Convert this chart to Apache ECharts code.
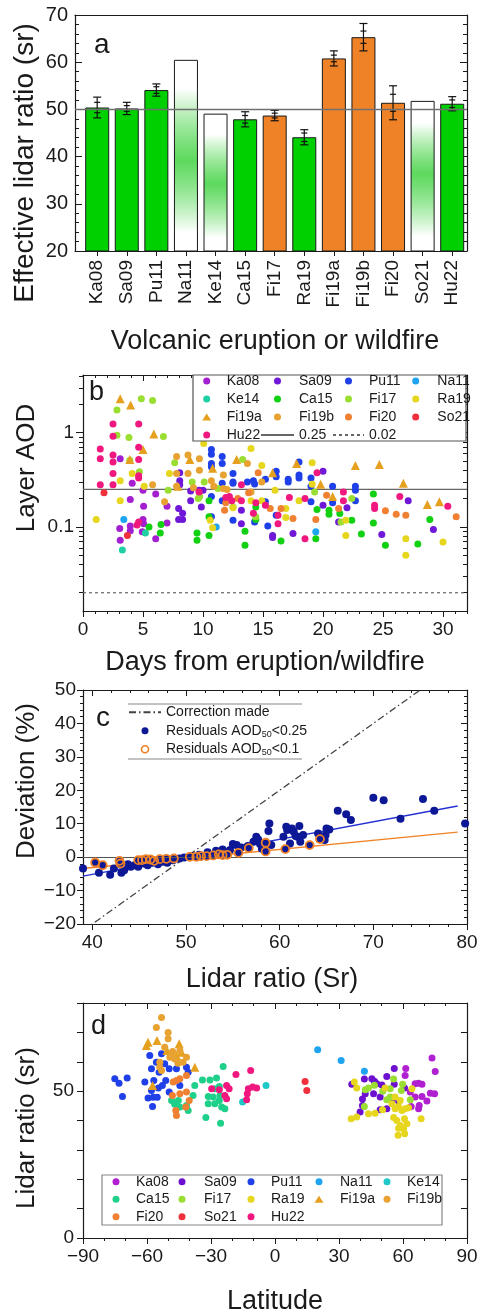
<!DOCTYPE html>
<html>
<head>
<meta charset="utf-8">
<script src="https://cdn.jsdelivr.net/npm/echarts@6/dist/echarts.min.js"></script>
<style>
  html, body { margin: 0; padding: 0; background: #fff; }
  #chart { width: 478px; height: 1314px; }
</style>
</head>
<body>
<div id="chart"></div>
<script>
// ---- panel a : effective lidar ratio per event ----
const catsA = ['Ka08','Sa09','Pu11','Na11','Ke14','Ca15','Fi17','Ra19','Fi19a','Fi19b','Fi20','So21','Hu22'];
const lrA = [50.4, 50.2, 54.1, 60.5, 49.1, 47.9, 48.7, 44.1, 60.8, 65.3, 51.4, 51.8, 51.2];
const errOutA = [2.2, 1.3, 1.3, 0, 0, 1.6, 1.1, 1.6, 1.6, 2.9, 3.6, 0, 1.5];
const errInA = [1.1, 0.6, 0.7, 0, 0, 0.8, 0.5, 0.9, 0.7, 1.3, 1.8, 0, 0.8];
const kindA = ['v','v','v','n','n','v','f','v','f','f','f','n','v']; // v volcanic, f fire, n no estimate
const refLineA = 50;

// ---- panel b : layer AOD vs days ----
const bKa08 = [[3.1,0.53],[3.06,0.096],[3.1,0.072],[3.94,0.195],[3.94,0.102],[3.94,0.091],[4.1,0.29],[5.0,0.245],[5.0,0.12],[4.94,0.089],[5.05,0.166],[5.05,0.108],[6.06,0.075],[6.06,0.223],[7.0,0.166],[7.0,0.110]];
const bSa09 = [[7.97,0.157],[7.97,0.12],[8.06,0.375],[8.06,0.31],[8.06,0.28],[8.3,0.12],[8.3,0.14],[8.97,0.19],[8.97,0.24],[9.67,0.245],[9.86,0.163],[10.0,0.245],[13.2,0.15],[13.2,0.108],[15.8,0.081],[15.8,0.077],[17.5,0.085],[20.0,0.39],[20.0,0.17],[22.0,0.16],[21.3,0.113],[24.9,0.083],[27.1,0.19],[29.2,0.094]];
const bPu11 = [[10.7,0.665],[10.7,0.59],[10.7,0.47],[10.7,0.435],[10.7,0.21],[10.7,0.128],[11.6,0.56],[11.6,0.47],[11.6,0.29],[11.6,0.19],[12.5,0.37],[12.5,0.30],[12.5,0.29],[12.5,0.118],[14.2,0.31],[14.3,0.285],[14.3,0.113],[15.2,0.32],[15.2,0.185],[15.4,0.102],[16.1,0.39],[16.1,0.34],[16.1,0.133],[17.1,0.32],[17.1,0.30],[18.0,0.49],[18.0,0.355],[18.0,0.33],[19.0,0.33],[19.0,0.27],[19.0,0.185],[20.8,0.27],[20.8,0.18],[22.7,0.27],[22.7,0.245],[22.7,0.19],[13.7,0.30]];
const bNa11 = [[3.4,0.12],[11.1,0.10],[19.4,0.089]];
const bKe14 = [[3.28,0.057],[5.2,0.086]];
const bCa15 = [[5.5,0.10],[6.5,0.106],[6.44,0.086],[9.5,0.086],[9.5,0.072],[10.5,0.19],[10.5,0.128],[10.5,0.081],[13.5,0.09],[13.5,0.064],[14.4,0.163],[14.4,0.12],[16.5,0.071],[19.4,0.075],[19.5,0.153],[20.5,0.15],[20.5,0.136],[21.4,0.139],[22.4,0.118],[23.2,0.084],[24.2,0.223],[24.2,0.110],[25.2,0.064],[27.9,0.066],[28.9,0.12]];
const bFi17 = [[2.83,1.74],[4.86,2.3],[5.8,2.2],[2.83,0.94],[3.83,0.89],[6.7,0.91],[4.7,0.385],[3.9,0.51],[7.64,0.48],[9.72,0.21],[9.6,0.20],[11.25,0.256],[12.5,0.163],[14.4,0.128],[13.3,0.52],[19.3,0.235],[21.5,0.113],[7.1,0.245],[9.1,0.30],[10.1,0.30],[22.4,0.20]];
const bRa19 = [[1.1,0.12],[3.1,0.31],[3.1,0.19],[4.1,0.37],[5.1,0.27],[7.2,0.37],[10.06,0.77],[10.6,0.118],[10.8,0.098],[12.5,0.16],[14.0,0.68],[14.0,0.19],[14.9,0.45],[14.9,0.19],[16.0,0.245],[16.9,0.157],[16.9,0.126],[18.0,0.19],[19.1,0.48],[19.1,0.284],[21.9,0.081],[21.9,0.118],[26.9,0.075],[26.9,0.05],[30.0,0.069]];
const bFi19a = [[3.1,2.3],[3.97,1.97],[5.9,0.97],[5.0,0.665],[3.9,0.52],[8.9,0.52],[10.8,0.42],[12.8,0.52],[15.8,0.375],[17.8,0.47],[19.8,0.284],[20.8,0.21],[22.7,0.45],[24.7,0.46],[26.7,0.29],[28.7,0.173],[29.7,0.185],[7.9,0.27]];
const bFi19b = [[7.8,0.56],[8.75,0.58],[9.7,0.53],[9.7,0.40],[7.8,0.37],[8.75,0.37],[5.8,0.28],[6.8,0.185],[7.8,0.27],[10.7,0.31],[11.7,0.355],[11.7,0.256],[13.7,0.47],[14.0,0.235],[14.9,0.30],[9.2,0.26],[10.9,0.27],[12.0,0.25]];
const bFi20 = [[14.6,0.375],[12.9,0.20],[11.9,0.18],[11.8,0.15],[15.6,0.157],[16.5,0.157],[17.5,0.123],[19.4,0.12],[20.3,0.217],[21.3,0.157],[25.2,0.148],[26.1,0.136],[26.9,0.133],[31.1,0.128],[13.8,0.23]];
const bSo21 = [[1.75,0.23],[3.7,0.081]];
const bHu22 = [[2.5,1.24],[2.5,0.92],[1.44,0.67],[1.44,0.53],[2.5,0.58],[2.5,0.49],[2.5,0.37],[2.5,0.28],[4.64,1.24],[4.64,0.70],[4.64,0.52],[4.64,0.35],[4.64,0.33],[1.44,0.28],[4.64,0.113],[4.5,0.105],[13.2,0.28],[13.2,0.19],[14.2,0.14],[15.2,0.17],[16.25,0.133],[16.25,0.108],[17.2,0.205],[18.5,0.20],[18.5,0.075],[19.5,0.375],[21.7,0.235],[21.7,0.19],[24.3,0.17],[24.3,0.157],[26.4,0.21],[30.4,0.166],[11.9,0.205],[12.2,0.21],[9.67,0.235],[14.4,0.18],[12.4,0.19]];
const bRefSolid = 0.25;
const bRefDash = 0.02;
const bXMajor = [0, 5, 10, 15, 20, 25, 30];
const bXMinor = [1,2,3,4,6,7,8,9,11,12,13,14,16,17,18,19,21,22,23,24,26,27,28,29,31,32];
const bYMajor = [0.1, 1];
const bYMinor = [0.02,0.03,0.04,0.05,0.06,0.07,0.08,0.09,0.2,0.3,0.4,0.5,0.6,0.7,0.8,0.9,2,3,4];

// ---- panel c : deviation vs lidar ratio ----
const cRes25 = [[39.0,-3.4],[40.7,-4.7],[41.9,-5.3],[42.3,-3.4],[43.0,-2.2],[43.1,-4.7],[43.4,-3.9],[43.8,-2.1],[44.1,-2.9],[44.5,-2.4],[44.9,-2.9],[45.5,-1.9],[45.9,-2.4],[46.4,-1.7],[47.0,-2.1],[47.5,-1.4],[48.0,-1.7],[48.6,-0.9],[49.3,-0.4],[49.8,-0.1],[50.7,0.3],[51.4,0.7],[52.3,1.5],[53.2,1.9],[53.9,2.3],[54.7,2.1],[55.0,3.9],[55.4,3.6],[55.9,2.9],[56.6,3.3],[57.2,4.6],[57.5,6.1],[57.7,5.3],[57.9,3.9],[58.1,2.5],[58.9,10.1],[58.8,7.8],[59.1,3.6],[60.4,6.1],[60.7,9.1],[60.8,8.1],[61.1,4.1],[61.3,8.6],[61.5,7.6],[61.7,6.3],[61.9,6.1],[62.1,9.3],[62.2,4.6],[62.5,6.6],[64.1,7.1],[64.5,5.6],[64.8,5.1],[64.9,6.6],[65.0,8.6],[65.3,8.3],[66.2,13.9],[67.1,12.8],[67.6,11.1],[70.0,17.8],[71.1,17.0],[72.9,11.5],[75.3,17.4],[76.5,13.9],[79.8,10.1],
  [40.3,-1.6],[41.1,-2.4],[42.9,-1.1],[43.0,-1.9],[44.9,-0.9],[45.3,-0.9],[45.7,-0.6],[46.2,-0.7],[46.6,-1.1],[47.2,-0.6],[47.9,-0.5],[48.7,-0.4],[50.4,0.1],[51.1,0.1],[51.6,0.3],[52.2,0.3],[52.9,0.5],[53.5,0.8],[53.9,0.6],[54.4,0.7],[55.6,1.3],[56.7,2.7],[58.5,1.7],[58.5,4.3],[60.6,2.4],[63.2,3.6],[64.3,5.4]];
const cRes10 = [[40.3,-1.6],[41.1,-2.4],[42.9,-1.1],[43.0,-1.9],[44.9,-0.9],[45.3,-0.9],[45.7,-0.6],[46.2,-0.7],[46.6,-1.1],[47.2,-0.6],[47.9,-0.5],[48.7,-0.4],[50.4,0.1],[51.1,0.1],[51.6,0.3],[52.2,0.3],[52.9,0.5],[53.5,0.8],[53.9,0.6],[54.4,0.7],[55.6,1.3],[56.7,2.7],[58.5,1.7],[58.5,4.3],[60.6,2.4],[63.2,3.6],[64.3,5.4]];
const cCorrection = [[39, -22], [75, 50]];
const cFit25 = [[39, -5.7], [79, 15.3]];
const cFit10 = [[39, -3.4], [79, 7.5]];
const cXMajor = [40, 50, 60, 70, 80];
const cXMinor = [42,44,46,48,52,54,56,58,62,64,66,68,72,74,76,78];

// ---- panel d : lidar ratio vs latitude ----
const dKa08 = [[73.6,61.3],[75.1,56.7],[61.3,57.7],[65.7,52.5],[67.3,52.7],[68.9,52.3],[63.4,49.7],[65.7,48.0],[68.9,48.2],[72.8,49.3],[74.8,49.1],[71.2,46.6],[67.6,45.1],[67.3,44.0],[63.8,44.8],[61.0,55.3]];
const dSa09 = [[41.9,54.1],[45.4,54.2],[46.6,53.4],[47.7,52.5],[50.1,52.1],[52.4,55.0],[55.9,52.3],[60.7,51.1],[36.0,52.3],[42.3,49.1],[41.0,47.3],[46.2,49.1],[49.3,48.0],[54.8,46.8],[57.9,46.6],[52.4,44.0],[49.3,43.7],[39.9,42.9],[41.0,45.1],[46.9,52.9],[55.9,57.7]];
const dPu11 = [[-75.1,54.2],[-73.1,52.7],[-69.3,54.5],[-71.5,48.2],[-58.7,62.1],[-53.2,62.7],[-55.6,59.8],[-57.9,57.6],[-54.3,56.4],[-61.0,53.1],[-56.8,53.6],[-51.2,53.6],[-54.7,51.1],[-52.8,51.9],[-57.9,50.2],[-59.5,47.7],[-57.1,47.9],[-55.2,47.9],[-57.4,44.8],[-49.6,57.6],[-46.2,57.6],[-41.5,58.1],[-40.7,56.4],[-49.6,49.7],[-44.6,51.9],[-51.7,59.3]];
const dNa11 = [[20.0,64.1],[31.0,60.4],[41.9,56.8]];
const dKe14 = [[-4.2,51.9],[-15.2,46.3]];
const dCa15 = [[-48.5,46.8],[-45.3,46.8],[-47.0,45.5],[-44.6,44.6],[-41.5,45.1],[-38.4,48.5],[-37.6,51.9],[-40.7,43.4],[-34.0,53.8],[-30.5,53.8],[-27.4,54.5],[-24.3,58.4],[-28.2,50.8],[-26.1,51.6],[-31.3,48.2],[-29.0,48.0],[-25.8,48.5],[-31.3,45.7],[-28.2,45.7],[-26.1,46.8],[-25.0,44.6],[-23.5,44.0],[-32.4,41.0],[-25.5,39.1]];
const dFi17 = [[42.3,50.5],[43.8,51.1],[46.6,52.0],[50.5,50.0],[54.0,50.8],[55.6,54.1],[59.8,52.3],[59.2,50.2],[52.4,47.1],[54.0,48.0],[63.4,47.1],[41.9,44.8]];
const dRa19 = [[37.2,53.1],[38.3,51.1],[35.7,40.6],[38.3,41.2],[43.8,42.3],[46.9,42.5],[50.4,43.7],[54.8,45.7],[56.3,44.0],[57.9,44.8],[59.5,43.4],[61.0,44.0],[62.6,44.3],[55.6,41.0],[57.1,40.0],[60.7,40.6],[58.7,38.3],[61.8,38.9],[60.3,37.2],[57.9,37.4],[68.5,40.6],[51.6,51.1],[64.2,50.8],[56.3,48.0],[58.7,46.8],[57.7,35.0],[60.8,35.5]];
const dFi19a = [[-59.5,66.6],[-60.3,65.5],[-55.3,67.2],[-44.9,66.1],[-50.6,63.8],[-48.5,62.7],[-46.2,62.1],[-43.8,63.2],[-37.6,58.1],[-57.4,51.9]];
const dFi19b = [[-53.2,75.1],[-55.6,71.7],[-50.1,70.0],[-50.1,67.8],[-51.7,64.9],[-49.3,61.5],[-47.0,60.9],[-44.6,63.8],[-43.1,59.8],[-41.5,61.5],[-54.0,59.8],[-53.2,57.0],[-54.0,58.1],[-45.5,59.5],[-48.0,63.5]];
const dFi20 = [[-47.7,53.1],[-44.6,54.2],[-41.5,55.3],[-46.2,53.6],[-48.1,48.5],[-44.6,49.1],[-41.5,49.7],[-40.2,46.8],[-46.5,43.4],[-46.2,41.7],[-41.8,44.6]];
const dSo21 = [[14.1,53.3],[14.9,50.2]];
const dHu22 = [[-29.7,50.8],[-26.1,50.5],[-22.7,51.9],[-21.5,50.8],[-18.3,55.7],[-23.5,48.5],[-22.7,47.4],[-11.4,57.0],[-12.5,50.8],[-10.5,51.4],[-8.6,51.1],[-13.0,49.1],[-13.3,47.1]];

// ---- styles ----
const FONT = '"Liberation Sans", Arial, sans-serif';
const INK = '#1a1a1a';
const GREEN = '#00cf00';
const ORANGE = '#ef8226';
const peakA = { 3: 39.2, 4: 34.3, 11: 36.4 };  // where the green haze peaks in the empty bars

const colB = { Ka08:'#a31fd0', Sa09:'#7018d8', Pu11:'#1f3fe8', Na11:'#1ea4f0', Ke14:'#1fd0a4', Ca15:'#12d012',
  Fi17:'#9ade32', Ra19:'#e6d61e', Fi19a:'#e6a020', Fi19b:'#e8a232', Fi20:'#f08032', So21:'#f0303c', Hu22:'#f0187e' };
const colD = Object.assign({}, colB, { Ka08:'#b020d0', Sa09:'#6e10d0', Ke14:'#20c8c8', Ca15:'#1ed08a' });

const chart = echarts.init(document.getElementById('chart'), null, { renderer: 'canvas' });

const lineSt = { color: INK, width: 1.2 };
const tickSt = { color: INK, width: 1 };
const axLine = { show: true, onZero: false, lineStyle: lineSt };
const lab = (o) => Object.assign({ color: INK, fontFamily: FONT, fontSize: 19 }, o);
const minus = (v) => String(v).replace('-', '\u2212');

// tick-only axis used for mirrored / minor ticks
function tickAxis(o, values, len, inside) {
  return Object.assign({
    type: 'value', axisLine: { show: false, onZero: false }, axisLabel: { show: false }, splitLine: { show: false },
    axisTick: { show: true, customValues: values, length: len, inside: inside, lineStyle: tickSt }
  }, o);
}
function frameAxis(o, tick) {
  return Object.assign({
    type: 'value', axisLine: axLine, axisLabel: { show: false },
    splitLine: { show: false }, axisTick: tick || { show: false }
  }, o);
}

const posA = catsA.map((c, i) => i + 1);

const xAxis = [
  // a
  { type: 'value', gridIndex: 0, min: 0.25, max: 13.5, position: 'bottom', axisLine: axLine,
    axisTick: { show: true, customValues: posA, length: 5, lineStyle: tickSt },
    axisLabel: lab({ customValues: posA, rotate: 90, margin: 9, formatter: (v) => catsA[Math.round(v) - 1] }),
    splitLine: { show: false } },
  frameAxis({ gridIndex: 0, min: 0.25, max: 13.5, position: 'top' }),
  // b
  { type: 'value', gridIndex: 1, min: 0, max: 32, position: 'bottom', axisLine: axLine,
    axisTick: { show: true, customValues: bXMajor, length: 6, lineStyle: tickSt },
    axisLabel: lab({ customValues: bXMajor, margin: 9 }), splitLine: { show: false } },
  tickAxis({ gridIndex: 1, min: 0, max: 32, position: 'bottom' }, bXMinor, 3, false),
  frameAxis({ gridIndex: 1, min: 0, max: 32, position: 'top' },
    { show: true, customValues: bXMajor, length: 6, inside: true, lineStyle: tickSt }),
  tickAxis({ gridIndex: 1, min: 0, max: 32, position: 'top' }, bXMinor, 3, true),
  // c
  { type: 'value', gridIndex: 2, min: 39, max: 80, position: 'bottom', axisLine: axLine,
    axisTick: { show: true, customValues: cXMajor, length: 6, lineStyle: tickSt },
    axisLabel: lab({ customValues: cXMajor, margin: 9 }), splitLine: { show: false } },
  tickAxis({ gridIndex: 2, min: 39, max: 80, position: 'bottom' }, cXMinor, 3, false),
  frameAxis({ gridIndex: 2, min: 39, max: 80, position: 'top' },
    { show: true, customValues: cXMajor, length: 6, inside: true, lineStyle: tickSt }),
  tickAxis({ gridIndex: 2, min: 39, max: 80, position: 'top' }, cXMinor, 3, true),
  // d
  { type: 'value', gridIndex: 3, min: -90, max: 90, interval: 30, position: 'bottom', axisLine: axLine,
    axisTick: { show: true, length: 6, lineStyle: tickSt },
    minorTick: { show: true, splitNumber: 3, length: 3, lineStyle: tickSt },
    axisLabel: lab({ margin: 9, formatter: minus }), splitLine: { show: false }, minorSplitLine: { show: false } },
  frameAxis({ gridIndex: 3, min: -90, max: 90, interval: 30, position: 'top',
    minorTick: { show: true, splitNumber: 3, length: 3, lineStyle: tickSt } },
    { show: true, length: 6, inside: true, lineStyle: tickSt })
];

const yAxis = [
  // a
  { type: 'value', gridIndex: 0, min: 20, max: 70, interval: 10, position: 'left', axisLine: axLine,
    axisTick: { show: true, inside: true, length: 7, lineStyle: tickSt },
    minorTick: { show: true, splitNumber: 5, length: 4, lineStyle: tickSt },
    axisLabel: lab({ fontSize: 20, margin: 7 }), splitLine: { show: false } },
  frameAxis({ gridIndex: 0, min: 20, max: 70, interval: 10, position: 'right',
    minorTick: { show: true, splitNumber: 5, length: 4, lineStyle: tickSt } },
    { show: true, inside: true, length: 7, lineStyle: tickSt }),
  // b (log)
  { type: 'log', gridIndex: 1, min: 0.0128, max: 4.1, position: 'left', axisLine: axLine,
    axisTick: { show: true, customValues: bYMajor, length: 7, lineStyle: tickSt },
    axisLabel: lab({ customValues: bYMajor, margin: 9, formatter: (v) => String(v) }), splitLine: { show: false } },
  tickAxis({ type: 'log', gridIndex: 1, min: 0.0128, max: 4.1, position: 'left' }, bYMinor, 4, false),
  frameAxis({ type: 'log', gridIndex: 1, min: 0.0128, max: 4.1, position: 'right' },
    { show: true, customValues: bYMajor, length: 7, inside: true, lineStyle: tickSt }),
  tickAxis({ type: 'log', gridIndex: 1, min: 0.0128, max: 4.1, position: 'right' }, bYMinor, 4, true),
  // c
  { type: 'value', gridIndex: 2, min: -20, max: 50, interval: 10, position: 'left', axisLine: axLine,
    axisTick: { show: true, length: 6, lineStyle: tickSt },
    minorTick: { show: true, splitNumber: 5, length: 3, lineStyle: tickSt },
    axisLabel: lab({ margin: 7, formatter: minus }), splitLine: { show: false } },
  frameAxis({ gridIndex: 2, min: -20, max: 50, interval: 10, position: 'right',
    minorTick: { show: true, splitNumber: 5, length: 3, lineStyle: tickSt } },
    { show: true, inside: true, length: 6, lineStyle: tickSt }),
  // d
  { type: 'value', gridIndex: 3, min: 0, max: 80, interval: 10, position: 'left', axisLine: axLine,
    axisTick: { show: true, length: 6, lineStyle: tickSt },
    axisLabel: lab({ margin: 9, formatter: (v) => (v === 0 || v === 50) ? String(v) : '' }),
    splitLine: { show: false } },
  frameAxis({ gridIndex: 3, min: 0, max: 80, interval: 10, position: 'right' },
    { show: true, inside: true, length: 6, lineStyle: tickSt })
];

// bar colours
function barColor(i) {
  if (kindA[i] === 'f') return ORANGE;
  if (kindA[i] === 'v') return GREEN;
  const v = lrA[i], p = peakA[i];
  return { type: 'linear', x: 0, y: 0, x2: 0, y2: 1, colorStops: [
    { offset: 0, color: '#ffffff' },
    { offset: 0.15, color: '#ffffff' },
    { offset: (v - p) / (v - 20), color: 'rgba(40,205,40,0.75)' },
    { offset: 0.9, color: '#ffffff' },
    { offset: 1, color: '#ffffff' }
  ] };
}

const series = [];

series.push({
  type: 'bar', xAxisIndex: 0, yAxisIndex: 0, barWidth: 24, clip: true,
  data: lrA.map((v, i) => ({ value: [i + 1, v], itemStyle: { color: barColor(i) } })),
  itemStyle: { borderColor: INK, borderWidth: 1 },
  markLine: { silent: true, symbol: 'none', label: { show: false },
    lineStyle: { color: '#707070', width: 1.4, type: 'solid' }, data: [{ yAxis: refLineA }] },
  z: 2
});

series.push({
  type: 'custom', xAxisIndex: 0, yAxisIndex: 0, z: 4,
  data: lrA.map((v, i) => [i + 1, v, errOutA[i], errInA[i]]).filter((d) => d[2] > 0),
  encode: { x: 0, y: 1 },
  renderItem: function (params, api) {
    const x = api.value(0), v = api.value(1), eo = api.value(2), ei = api.value(3);
    const t = api.coord([x, v + eo]), b = api.coord([x, v - eo]);
    const ti = api.coord([x, v + ei]), bi = api.coord([x, v - ei]);
    const st = { stroke: '#111', lineWidth: 1.2 };
    const seg = (x1, y1, x2, y2) => ({ type: 'line', shape: { x1, y1, x2, y2 }, style: st });
    return { type: 'group', children: [
      seg(t[0], t[1], b[0], b[1]),
      seg(t[0] - 4, t[1], t[0] + 4, t[1]),
      seg(b[0] - 4, b[1], b[0] + 4, b[1]),
      seg(ti[0] - 3, ti[1], ti[0] + 3, ti[1]),
      seg(bi[0] - 3, bi[1], bi[0] + 3, bi[1])
    ] };
  }
});

// panel b scatter
const bSets = [['Ka08', bKa08], ['Sa09', bSa09], ['Pu11', bPu11], ['Na11', bNa11], ['Ke14', bKe14], ['Ca15', bCa15],
  ['Fi17', bFi17], ['Ra19', bRa19], ['Fi19a', bFi19a], ['Fi19b', bFi19b], ['Fi20', bFi20], ['So21', bSo21], ['Hu22', bHu22]];
bSets.forEach(([name, data]) => {
  const tri = name === 'Fi19a';
  series.push({ type: 'scatter', name, xAxisIndex: 2, yAxisIndex: 2, data,
    symbol: tri ? 'triangle' : 'circle', symbolSize: tri ? 9 : 7,
    itemStyle: { color: colB[name], opacity: 1 } });
});
series.push({ type: 'line', name: '0.25', xAxisIndex: 2, yAxisIndex: 2, symbol: 'none',
  data: [[0, bRefSolid], [32, bRefSolid]], lineStyle: { color: '#666', width: 1.3 }, itemStyle: { color: '#666' }, z: 1 });
series.push({ type: 'line', name: '0.02', xAxisIndex: 2, yAxisIndex: 2, symbol: 'none',
  data: [[0, bRefDash], [32, bRefDash]], lineStyle: { color: '#666', width: 1.2, type: [3, 3] }, itemStyle: { color: '#666' }, z: 1 });

// panel c
const NAVY = '#0d1896';
series.push({ type: 'line', name: 'Correction made', xAxisIndex: 6, yAxisIndex: 6, symbol: 'none', clip: true,
  data: cCorrection, lineStyle: { color: '#444', width: 1.3, type: [7, 3, 1.5, 3] }, itemStyle: { color: '#444' },
  markLine: { silent: true, symbol: 'none', label: { show: false },
    lineStyle: { color: '#555', width: 1.1, type: 'solid' }, data: [{ yAxis: 0 }] } });
series.push({ type: 'line', name: 'fit25', xAxisIndex: 6, yAxisIndex: 6, symbol: 'none',
  data: cFit25, lineStyle: { color: '#2430d0', width: 1.3 }, z: 3 });
series.push({ type: 'line', name: 'fit10', xAxisIndex: 6, yAxisIndex: 6, symbol: 'none',
  data: cFit10, lineStyle: { color: ORANGE, width: 1.3 }, z: 3 });
series.push({ type: 'scatter', name: 'res25', xAxisIndex: 6, yAxisIndex: 6, symbolSize: 8,
  data: cRes25, itemStyle: { color: NAVY, opacity: 1 }, z: 4 });
series.push({ type: 'scatter', name: 'res10', xAxisIndex: 6, yAxisIndex: 6, symbolSize: 8,
  data: cRes10, itemStyle: { color: 'rgba(0,0,0,0)', borderColor: ORANGE, borderWidth: 1.8, opacity: 1 }, z: 5 });

// panel d scatter
const dSets = [['Ka08', dKa08], ['Sa09', dSa09], ['Pu11', dPu11], ['Na11', dNa11], ['Ke14', dKe14], ['Ca15', dCa15],
  ['Fi17', dFi17], ['Ra19', dRa19], ['Fi19a', dFi19a], ['Fi19b', dFi19b], ['Fi20', dFi20], ['So21', dSo21], ['Hu22', dHu22]];
dSets.forEach(([name, data]) => {
  const tri = name === 'Fi19a';
  series.push({ type: 'scatter', name: 'd-' + name, xAxisIndex: 10, yAxisIndex: 8, data,
    symbol: tri ? 'triangle' : 'circle', symbolSize: tri ? 9 : 7,
    itemStyle: { color: colD[name], opacity: 1 } });
});

// legends
const legTxt = { color: INK, fontFamily: FONT, fontSize: 14, lineHeight: 18 };
const noDot = (name) => ({ name, itemStyle: { opacity: 0 } });
// symbol-only column: icon centred at cx, text starting at tx
function symCol(cx, tx, top, data, lh, fmt) {
  return { left: cx - 4.5, top, orient: 'vertical', itemGap: 0, itemWidth: 9, itemHeight: 7, padding: 0,
    selectedMode: false, symbolKeepAspect: true, data, formatter: fmt,
    textStyle: Object.assign({}, legTxt, { lineHeight: lh, padding: [0, 0, 0, tx - cx - 9.5] }), z: 10 };
}
function lineCol(left, w, top, data, extra) {
  return Object.assign({ left, top, orient: 'vertical', itemGap: 0, itemWidth: w, itemHeight: 7, padding: 0,
    selectedMode: false, symbolKeepAspect: true, data, textStyle: legTxt, z: 10 }, extra || {});
}
const legend = [
  symCol(206.7, 226.7, 372, ['Ka08', 'Ke14', 'Fi19a', 'Hu22'], 18),
  lineCol(260, 33, 372, ['Sa09', 'Ca15', 'Fi19b', noDot('0.25')]),
  lineCol(332, 31, 372, ['Pu11', 'Fi17', 'Fi20', noDot('0.02')]),
  symCol(416.7, 438.3, 372, ['Na11', 'Ra19', 'So21'], 18),
  lineCol(128, 32, 703, [noDot('Correction made'), 'res25',
    { name: 'res10', itemStyle: { color: '#fff', borderColor: ORANGE, borderWidth: 1.6 } }],
    { formatter: (n) => n === 'res25' ? 'Residuals AOD{s|50}<0.25' : n === 'res10' ? 'Residuals AOD{s|50}<0.1' : n,
      textStyle: Object.assign({}, legTxt, { lineHeight: 18.5, rich: { s: { fontSize: 9, fontFamily: FONT, color: INK, padding: [7, 0, 0, 0] } } }) })
];
const dCols = [[117, 137, ['Ka08', 'Ca15', 'Fi20']], [183, 205, ['Sa09', 'Fi17', 'So21']], [252, 272, ['Pu11', 'Ra19', 'Hu22']],
  [319, 340, ['Na11', 'Fi19a']], [388, 408, ['Ke14', 'Fi19b']]];
dCols.forEach(([cx, tx, names]) => {
  legend.push(symCol(cx, tx, 1173, names.map((n) => 'd-' + n), 17.5, (n) => n.replace('d-', '')));
});

// titles, panel letters, legend frames
function txt(x, y, text, size, rot, align) {
  return { type: 'text', x, y, rotation: rot || 0, z: 20,
    style: { text, fill: INK, font: size + 'px ' + FONT, align: align || 'center', verticalAlign: 'middle',
      textAlign: align || 'center', textVerticalAlign: 'middle' } };
}
const graphic = [
  { type: 'rect', z: 5, shape: { x: 193, y: 375, width: 273, height: 66 }, style: { fill: '#fff', stroke: '#555', lineWidth: 1.2 } },
  { type: 'rect', z: 5, shape: { x: 102, y: 1175, width: 340, height: 50 }, style: { fill: '#fff', stroke: '#888', lineWidth: 1.2 } },
  { type: 'line', z: 5, shape: { x1: 128, y1: 704, x2: 302, y2: 704 }, style: { stroke: '#888', lineWidth: 1.2 } },
  { type: 'line', z: 5, shape: { x1: 128, y1: 759, x2: 302, y2: 759 }, style: { stroke: '#888', lineWidth: 1.2 } },
  txt(25, 163, 'Effective lidar ratio (sr)', 28, Math.PI / 2),
  txt(275, 342, 'Volcanic eruption or wildfire', 27),
  txt(27, 468, 'Layer AOD', 26, Math.PI / 2),
  txt(265, 663, 'Days from eruption/wildfire', 27),
  txt(27, 781, 'Deviation (%)', 26, Math.PI / 2),
  txt(272, 980, 'Lidar ratio (Sr)', 27),
  txt(27, 1128, 'Lidar ratio (sr)', 26, Math.PI / 2),
  txt(275, 1302, 'Latitude', 27),
  txt(94, 45, 'a', 28, 0, 'left'),
  txt(89, 393, 'b', 27, 0, 'left'),
  txt(96, 718, 'c', 28, 0, 'left'),
  txt(91, 1027, 'd', 27, 0, 'left')
];

const gridBase = { containLabel: false, outerBoundsMode: 'none', show: false };
chart.setOption({
  animation: false,
  backgroundColor: '#fff',
  textStyle: { fontFamily: FONT },
  grid: [
    Object.assign({ left: 75, top: 15, width: 392, height: 236 }, gridBase),
    Object.assign({ left: 83, top: 375, width: 384, height: 236 }, gridBase),
    Object.assign({ left: 83, top: 690, width: 384, height: 234 }, gridBase),
    Object.assign({ left: 83, top: 1003, width: 384, height: 235 }, gridBase)
  ],
  xAxis, yAxis, series, legend, graphic
});
</script>
</body>
</html>
